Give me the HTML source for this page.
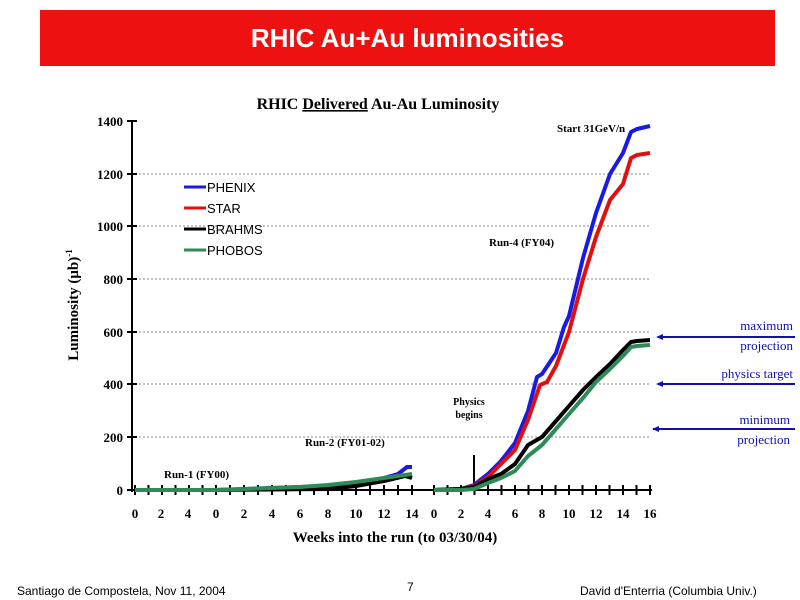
<!DOCTYPE html>
<html><head><style>
body{margin:0;width:800px;height:600px;background:#fff;overflow:hidden;position:relative}
.t{position:absolute;left:40px;top:10px;width:735px;height:56px;background:#ee1111;color:#fff;font:bold 26px "Liberation Sans",sans-serif;text-align:center;line-height:56px}
.f{position:absolute;top:584px;font:12px "Liberation Sans",sans-serif;color:#000}
</style></head><body>
<div class="t">RHIC Au+Au luminosities</div>
<svg width="800" height="600" style="position:absolute;left:0;top:0" font-family="Liberation Serif,serif">
<text x="378" y="109" text-anchor="middle" font-weight="bold" font-size="16">RHIC <tspan text-decoration="underline">Delivered</tspan> Au-Au Luminosity</text>
<g stroke="#888" stroke-dasharray="2,2" stroke-width="1">
<line x1="135" x2="650" y1="437" y2="437"/><line x1="135" x2="650" y1="384" y2="384"/><line x1="135" x2="650" y1="332" y2="332"/><line x1="135" x2="650" y1="279" y2="279"/><line x1="135" x2="650" y1="226" y2="226"/><line x1="135" x2="650" y1="174" y2="174"/>
</g>
<g stroke="#000" stroke-width="2">
<line x1="132" y1="121" x2="132" y2="492"/><line x1="132" y1="490" x2="652" y2="490"/>
<line x1="127" x2="137" y1="490" y2="490"/><line x1="127" x2="137" y1="437" y2="437"/><line x1="127" x2="137" y1="384" y2="384"/><line x1="127" x2="137" y1="332" y2="332"/><line x1="127" x2="137" y1="279" y2="279"/><line x1="127" x2="137" y1="226" y2="226"/><line x1="127" x2="137" y1="174" y2="174"/><line x1="127" x2="137" y1="121" y2="121"/>
</g>
<g stroke="#000" stroke-width="2" id="tk"></g>
<g font-weight="bold" font-size="13" text-anchor="end">
<text x="123" y="495">0</text><text x="123" y="442">200</text><text x="123" y="389">400</text><text x="123" y="337">600</text><text x="123" y="284">800</text><text x="123" y="231">1000</text><text x="123" y="179">1200</text><text x="123" y="126">1400</text>
</g>
<g font-weight="bold" font-size="13" text-anchor="middle">
<text x="135" y="518">0</text><text x="161" y="518">2</text><text x="188" y="518">4</text>
<text x="216" y="518">0</text><text x="244" y="518">2</text><text x="272" y="518">4</text><text x="300" y="518">6</text><text x="328" y="518">8</text><text x="356" y="518">10</text><text x="384" y="518">12</text><text x="412" y="518">14</text>
<text x="434" y="518">0</text><text x="461" y="518">2</text><text x="488" y="518">4</text><text x="515" y="518">6</text><text x="542" y="518">8</text><text x="569" y="518">10</text><text x="596" y="518">12</text><text x="623" y="518">14</text><text x="650" y="518">16</text>
</g>
<text x="395" y="542" text-anchor="middle" font-weight="bold" font-size="15">Weeks into the run  (to 03/30/04)</text>
<text transform="translate(78,305) rotate(-90)" text-anchor="middle" font-weight="bold" font-size="15">Luminosity (μb)<tspan dy="-6" font-size="9">-1</tspan></text>
<g font-weight="bold" font-size="11">
<text x="557" y="132">Start 31GeV/n</text><text x="489" y="246">Run-4 (FY04)</text>
<text x="305" y="446">Run-2 (FY01-02)</text><text x="164" y="478">Run-1 (FY00)</text>
<text x="469" y="405" text-anchor="middle" font-size="10">Physics</text><text x="469" y="418" text-anchor="middle" font-size="10">begins</text>
</g>
<line x1="474" y1="490" x2="474" y2="455" stroke="#000" stroke-width="2"/>
<g fill="none" stroke-width="4" stroke-linejoin="round">
<polyline stroke="#1a1ae0" points="216,490 300,487 328,486 356,483 384,478 398,474 407,467 412,467"/>
<polyline stroke="#000" points="216,490 328,489 356,486 384,481 405,476 412,478"/>
<polyline stroke="#2e8b57" points="135,490 188,490 216,490 300,487 328,485 356,482 384,478 412,474"/>
<polyline stroke="#1a1ae0" points="434,490 461,489 474,485 488,474 501,461 515,443 528,411 537,377 542,374 556,353 564,327 569,316 583,258 596,213 610,174 623,153 631,132 637,129 650,126"/>
<polyline stroke="#e01010" points="434,490 461,489 474,486 488,477 501,464 515,450 528,420 540,385 547,382 556,366 569,332 583,279 596,237 610,200 623,184 631,158 637,155 650,153"/>
<polyline stroke="#000" points="434,490 461,489 474,487 488,479 501,474 515,464 528,445 542,437 556,421 569,406 583,390 596,377 610,364 623,350 631,342 637,341 650,340"/>
<polyline stroke="#2e8b57" points="434,490 461,490 474,489 488,483 501,478 515,471 528,456 542,445 556,429 569,414 583,398 596,382 610,369 623,356 631,347 637,346 650,345"/>
</g>
<g stroke-width="3"><line x1="184" x2="206" y1="187" y2="187" stroke="#1a1ae0"/><line x1="184" x2="206" y1="208" y2="208" stroke="#e01010"/><line x1="184" x2="206" y1="229" y2="229" stroke="#000"/><line x1="184" x2="206" y1="250" y2="250" stroke="#2e8b57"/></g>
<g font-family="Liberation Sans,sans-serif" font-size="13"><text x="207" y="192">PHENIX</text><text x="207" y="213">STAR</text><text x="207" y="234">BRAHMS</text><text x="207" y="255">PHOBOS</text></g>
<g stroke="#1010b0" stroke-width="2"><line x1="658" x2="795" y1="337" y2="337"/><line x1="658" x2="795" y1="384" y2="384"/><line x1="653" x2="795" y1="429" y2="429"/></g>
<g fill="#1010b0"><path d="M656,337 l7,-3 v6z"/><path d="M656,384 l7,-3 v6z"/><path d="M652,429 l7,-3 v6z"/></g>
<g fill="#1010b0" font-size="13" text-anchor="end"><text x="793" y="330">maximum</text><text x="793" y="350">projection</text><text x="793" y="378">physics target</text><text x="790" y="424">minimum</text><text x="790" y="444">projection</text></g>
</svg>
<div class="f" style="left:17px">Santiago de Compostela, Nov 11, 2004</div>
<div class="f" style="left:407px;top:580px">7</div>
<div class="f" style="left:580px">David d'Enterria (Columbia Univ.)</div>
<script>
var g=document.getElementById('tk'),s='';
function t(x){s+='<line x1="'+x+'" x2="'+x+'" y1="485" y2="495"/>';}
for(var w=0;w<=5;w++)t(135+13.5*w);for(w=0;w<=14;w++)t(216+14*w);for(w=0;w<=16;w++)t(434+13.5*w);
g.innerHTML=s;
</script>
</body></html>
